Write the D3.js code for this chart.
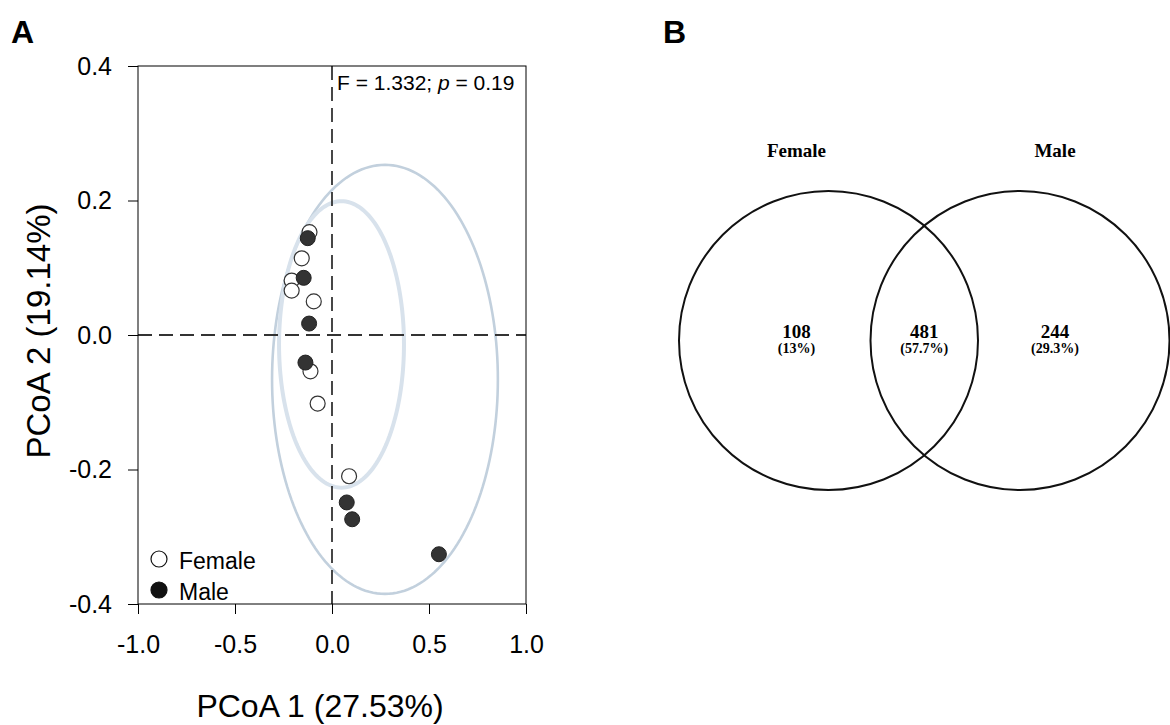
<!DOCTYPE html>
<html>
<head>
<meta charset="utf-8">
<script src="https://cdn.jsdelivr.net/npm/d3@7"></script>
<style>
  body { margin: 0; background: #fff; }
  svg { display: block; }
</style>
</head>
<body>
<div id="chart"></div>
<script>
// PCoA scores
const femaleX = [-0.116, -0.156, -0.208, -0.208, -0.094, -0.111, -0.074, 0.088];
const femaleY = [0.153, 0.114, 0.081, 0.066, 0.050, -0.054, -0.102, -0.210];
const maleX = [-0.125, -0.146, -0.118, -0.137, 0.076, 0.104, 0.551];
const maleY = [0.144, 0.085, 0.017, -0.041, -0.249, -0.274, -0.326];

// confidence ellipses (centre, semi axes) per group
const ellipseGroups = ['Male', 'Female'];
const ellipseCx = [0.273, 0.049];
const ellipseCy = [-0.066, -0.014];
const ellipseRx = [0.582, 0.322];
const ellipseRy = [0.319, 0.213];

const xTicks = [-1.0, -0.5, 0.0, 0.5, 1.0];
const yTicks = [-0.4, -0.2, 0.0, 0.2, 0.4];
const statText = 'F = 1.332; p = 0.19';

// venn
const vennSets = ['Female', 'Male'];
const vennCounts = [108, 481, 244];
const vennPercents = ['(13%)', '(57.7%)', '(29.3%)'];

const W = 1170, H = 725;
const sans = '"Liberation Sans", Arial, sans-serif';
const serif = '"Liberation Serif", "Times New Roman", serif';

var svg = d3.select('#chart')
    .append('svg')
    .attr('width', W)
    .attr('height', H);

svg.append('rect').attr('width', W).attr('height', H).attr('fill', '#fff');

// ---------- panel A ----------
const plot = {left: 138, right: 526, top: 66, bottom: 604};

var x = d3.scaleLinear().domain([-1, 1]).range([plot.left, plot.right]);
var y = d3.scaleLinear().domain([-0.4, 0.4]).range([plot.bottom, plot.top]);

svg.append('text')
    .attr('x', 11).attr('y', 43)
    .attr('font-family', sans).attr('font-weight', 'bold').attr('font-size', 32)
    .text('A');

var ellipseLine = d3.line()
    .x(d => x(d[0]))
    .y(d => y(d[1]))
    .curve(d3.curveLinearClosed);

const ellStroke = {Male: '#c2d0dd', Female: '#d8e2ec'};
const ellWidth = {Male: 2.6, Female: 4};
ellipseGroups.forEach((g, i) => {
    var pts = d3.range(0, 360, 2).map(a => {
        var t = a * Math.PI / 180;
        return [ellipseCx[i] + ellipseRx[i] * Math.cos(t), ellipseCy[i] + ellipseRy[i] * Math.sin(t)];
    });
    svg.append('path')
        .datum(pts)
        .attr('d', ellipseLine)
        .attr('fill', 'none')
        .attr('stroke', ellStroke[g])
        .attr('stroke-width', ellWidth[g]);
});

// zero lines
svg.append('line')
    .attr('x1', x(0)).attr('x2', x(0))
    .attr('y1', plot.top).attr('y2', plot.bottom)
    .attr('stroke', '#333').attr('stroke-width', 1.8)
    .attr('stroke-dasharray', '14,7');
svg.append('line')
    .attr('x1', plot.left).attr('x2', plot.right)
    .attr('y1', y(0)).attr('y2', y(0))
    .attr('stroke', '#333').attr('stroke-width', 1.8)
    .attr('stroke-dasharray', '14,7');

// frame
svg.append('rect')
    .attr('x', plot.left).attr('y', plot.top)
    .attr('width', plot.right - plot.left)
    .attr('height', plot.bottom - plot.top)
    .attr('fill', 'none')
    .attr('stroke', '#000').attr('stroke-width', 1);

var xAxis = svg.append('g')
    .attr('transform', 'translate(0, ' + plot.bottom + ')')
    .call(d3.axisBottom(x).tickValues(xTicks).tickSize(10).tickPadding(21)
        .tickFormat(d => d.toFixed(1)));
var yAxis = svg.append('g')
    .attr('transform', 'translate(' + plot.left + ', 0)')
    .call(d3.axisLeft(y).tickValues(yTicks).tickSize(10).tickPadding(16)
        .tickFormat(d => d.toFixed(1)));

[xAxis, yAxis].forEach(a => {
    a.select('.domain').remove();
    a.selectAll('.tick line').attr('stroke', '#000');
    a.selectAll('.tick text')
        .attr('font-family', sans)
        .attr('font-size', 25)
        .attr('fill', '#000');
});

// points
svg.append('g').selectAll('circle')
    .data(femaleX.map((v, i) => [v, femaleY[i]]))
    .join('circle')
    .attr('cx', d => x(d[0]))
    .attr('cy', d => y(d[1]))
    .attr('r', 7.5)
    .attr('fill', '#fff')
    .attr('stroke', '#333')
    .attr('stroke-width', 1.2);

svg.append('g').selectAll('circle')
    .data(maleX.map((v, i) => [v, maleY[i]]))
    .join('circle')
    .attr('cx', d => x(d[0]))
    .attr('cy', d => y(d[1]))
    .attr('r', 7.5)
    .attr('fill', '#333')
    .attr('stroke', '#222')
    .attr('stroke-width', 1);

// stat label
svg.append('text')
    .attr('x', x(0) + 5).attr('y', 90)
    .attr('font-family', sans).attr('font-size', 21)
    .html('F = 1.332; <tspan font-style="italic">p</tspan> = 0.19');

// legend
var legend = svg.append('g').attr('transform', 'translate(159, 559)');
['Female', 'Male'].forEach((lab, i) => {
    legend.append('circle')
        .attr('cx', 0).attr('cy', i * 31)
        .attr('r', 8)
        .attr('fill', i === 0 ? '#fff' : '#111')
        .attr('stroke', '#111')
        .attr('stroke-width', 1.2);
    legend.append('text')
        .attr('x', 20).attr('y', i * 31 + 10)
        .attr('font-family', sans).attr('font-size', 23)
        .text(lab);
});

// axis titles
svg.append('text')
    .attr('x', (plot.left + plot.right) / 2 - 12).attr('y', 717)
    .attr('text-anchor', 'middle')
    .attr('font-family', sans).attr('font-size', 32)
    .text('PCoA 1 (27.53%)');
svg.append('text')
    .attr('transform', 'translate(50, 331) rotate(-90)')
    .attr('text-anchor', 'middle')
    .attr('font-family', sans).attr('font-size', 33)
    .text('PCoA 2 (19.14%)');

// ---------- panel B ----------
svg.append('text')
    .attr('x', 663).attr('y', 43)
    .attr('font-family', sans).attr('font-weight', 'bold').attr('font-size', 32)
    .text('B');

const venn = {cxL: 828.5, cxR: 1020, cy: 340.5, r: 149.5};
var centres = [venn.cxL, venn.cxR];

svg.append('g').selectAll('circle')
    .data(vennSets)
    .join('circle')
    .attr('cx', (d, i) => centres[i])
    .attr('cy', venn.cy)
    .attr('r', venn.r)
    .attr('fill', 'none')
    .attr('stroke', '#111')
    .attr('stroke-width', 2);

var setLabelX = [venn.cxL - 32, venn.cxR + 35];
svg.append('g').selectAll('text')
    .data(vennSets)
    .join('text')
    .attr('x', (d, i) => setLabelX[i])
    .attr('y', 157)
    .attr('text-anchor', 'middle')
    .attr('font-family', serif).attr('font-weight', 'bold').attr('font-size', 19)
    .text(d => d);

var regionX = [venn.cxL - 32, (venn.cxR - venn.r + venn.cxL + venn.r) / 2, venn.cxR + 35];
var regions = svg.append('g');
regions.selectAll('text.count')
    .data(vennCounts)
    .join('text')
    .attr('class', 'count')
    .attr('x', (d, i) => regionX[i])
    .attr('y', 337.5)
    .attr('text-anchor', 'middle')
    .attr('font-family', serif).attr('font-weight', 'bold').attr('font-size', 19)
    .text(d => d);
regions.selectAll('text.pct')
    .data(vennPercents)
    .join('text')
    .attr('class', 'pct')
    .attr('x', (d, i) => regionX[i])
    .attr('y', 353)
    .attr('text-anchor', 'middle')
    .attr('font-family', serif).attr('font-weight', 'bold').attr('font-size', 14)
    .text(d => d);
</script>
</body>
</html>
